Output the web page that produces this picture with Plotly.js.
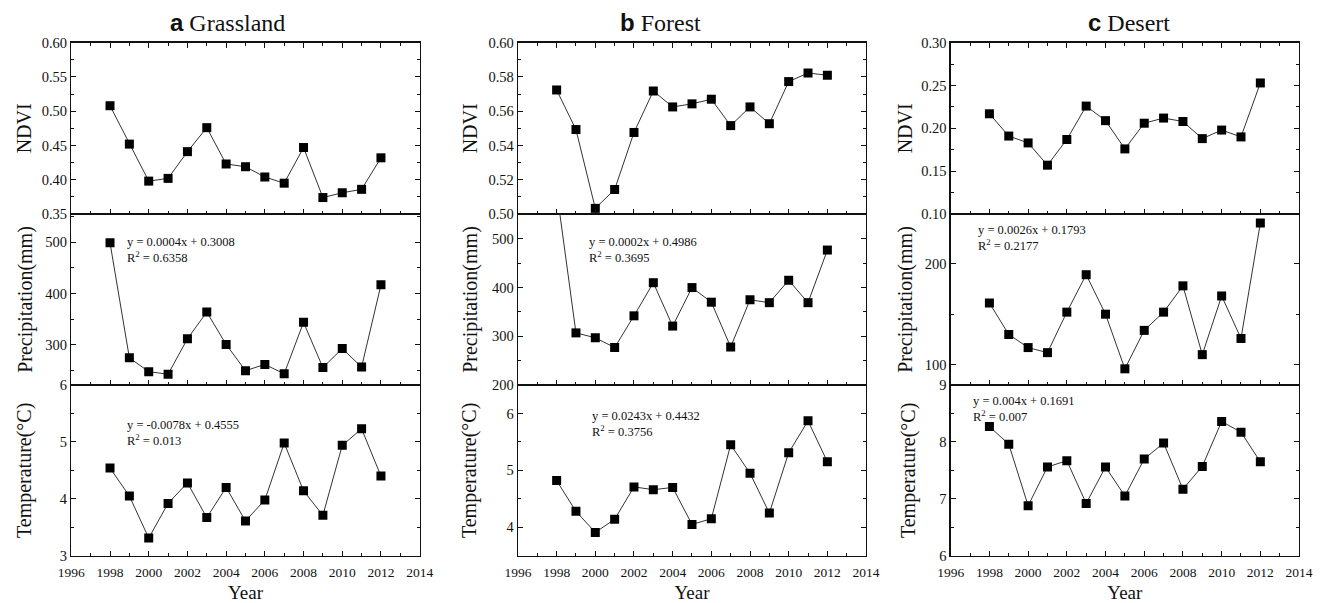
<!DOCTYPE html>
<html><head><meta charset="utf-8">
<script src="https://cdn.plot.ly/plotly-3.0.1.min.js"></script>
<style>html,body{margin:0;padding:0;background:#fff}#chart{width:1323px;height:603px}</style>
</head><body><div id="chart"></div>
<script>
const years = [1998,1999,2000,2001,2002,2003,2004,2005,2006,2007,2008,2009,2010,2011,2012];

const grasslandNDVI   = [0.508,0.452,0.398,0.402,0.441,0.476,0.423,0.419,0.404,0.395,0.447,0.374,0.381,0.386,0.432];
const grasslandPrecip = [499,275,248,243,312,364,301,250,262,244,344,256,293,257,417];
const grasslandTemp   = [4.54,4.05,3.31,3.92,4.28,3.67,4.20,3.61,3.98,4.98,4.14,3.71,4.94,5.23,4.40];

const forestNDVI   = [0.5724,0.5493,0.5033,0.5143,0.5476,0.5718,0.5625,0.5643,0.5670,0.5516,0.5625,0.5527,0.5773,0.5823,0.5810];
const forestPrecip = [600,307,297,277,342,410,321,400,370,278,375,369,415,369,477];
const forestTemp   = [4.82,4.28,3.91,4.14,4.71,4.66,4.70,4.05,4.15,5.45,4.95,4.25,5.31,5.87,5.15];

const desertNDVI   = [0.217,0.191,0.183,0.157,0.187,0.226,0.209,0.176,0.206,0.212,0.208,0.188,0.198,0.190,0.253];
const desertPrecip = [161,130,117,112,152,189,150,96,134,152,178,110,168,126,240];
const desertTemp   = [8.27,7.96,6.88,7.56,7.67,6.92,7.56,7.05,7.70,7.98,7.17,7.57,8.36,8.17,7.65];

const panelLetters = ['a','b','c'];
const panelNames = ['Grassland','Forest','Desert'];
const rowTitles = ['NDVI','Precipitation(mm)','Temperature(°C)'];
const xTitle = 'Year';
const equations = [
  ['', 'y = 0.0004x + 0.3008<br>R<sup>2</sup> = 0.6358', 'y = -0.0078x + 0.4555<br>R<sup>2</sup> = 0.013'],
  ['', 'y = 0.0002x + 0.4986<br>R<sup>2</sup> = 0.3695', 'y = 0.0243x + 0.4432<br>R<sup>2</sup> = 0.3756'],
  ['', 'y = 0.0026x + 0.1793<br>R<sup>2</sup> = 0.2177', 'y = 0.004x + 0.1691<br>R<sup>2</sup> = 0.007']
];
const seriesData = [
  [grasslandNDVI, grasslandPrecip, grasslandTemp],
  [forestNDVI, forestPrecip, forestTemp],
  [desertNDVI, desertPrecip, desertTemp]
];
const yRanges = [
  [[0.35,0.60],[222,555],[3,6]],
  [[0.50,0.60],[200,551],[3.5,6.5]],
  [[0.10,0.30],[80,249],[6,9]]
];
const yDticks = [
  [0.05,100,1],
  [0.02,100,1],
  [0.05,100,1]
];
const xRange = [1996,2014];

// layout geometry (styling)
const xDomains = [[0.0539,0.3172],[0.3915,0.6546],[0.7186,0.9819]];
const yDomains = [[0.6451,0.9292],[0.3615,0.6451],[0.0784,0.3615]];
const eqPos = [
  [null,[0.154,0.787],[0.154,0.72]],
  [null,[0.197,0.792],[0.207,0.771]],
  [null,[0.073,0.86],[0.058,0.858]]
];
const titleX = [0.172,0.4989,0.8537];
const yTitleStandoff = [[4,7,22],[5,9,24],[3,6,18]];

const serif = '"Liberation Serif", "Times New Roman", serif';
const axColor = '#111';

const traces = [];
const layout = {
  width:1323, height:603,
  margin:{l:0,r:0,t:0,b:0},
  paper_bgcolor:'#fff', plot_bgcolor:'#fff',
  showlegend:false,
  font:{family:serif, color:'#111', size:14},
  annotations:[]
};

for (let p=0;p<3;p++){
  for (let r=0;r<3;r++){
    const n = p*3 + r + 1;
    const sfx = n===1 ? '' : String(n);
    traces.push({
      type:'scatter', mode:'lines+markers',
      x: years, y: seriesData[p][r],
      xaxis:'x'+sfx, yaxis:'y'+sfx,
      line:{color:'#333', width:1},
      marker:{symbol:'square', size:9, color:'#000', line:{width:0}},
      cliponaxis: r===0 ? false : true,
      hoverinfo:'x+y'
    });
    const dt = yDticks[p][r];
    const xa = {
      domain: xDomains[p], anchor:'y'+sfx,
      range: xRange, dtick:2, tick0:1996,
      ticks:'inside', ticklen:5, tickwidth:1, tickcolor:axColor,
      minor:{dtick:1, ticks:'inside', ticklen:3, tickcolor:axColor},
      showline:true, linecolor:axColor, linewidth:1.3,
      mirror: r===0 ? 'ticks' : true,
      showgrid:false, zeroline:false,
      showticklabels: r===2,
      ticklabelstandoff: 4,
      tickfont:{family:serif, size:13.5, color:'#111'}
    };
    if (r===2) xa.title = {text:xTitle, font:{family:serif, size:19, color:'#111'}, standoff:12};
    layout['xaxis'+sfx] = xa;
    layout['yaxis'+sfx] = {
      domain: yDomains[r], anchor:'x'+sfx,
      range: yRanges[p][r], dtick: dt, tick0: 0,
      tickformat: r===0 ? '.2f' : '',
      ticks:'inside', ticklen:5, tickwidth:1, tickcolor:axColor,
      minor:{dtick: dt/2, ticks:'inside', ticklen:3, tickcolor:axColor},
      showline:true, linecolor:axColor, linewidth:1.3, mirror:'ticks',
      showgrid:false, zeroline:false,
      tickfont:{family:serif, size:14.5, color:'#111'},
      title:{text:rowTitles[r], font:{family:serif, size:20, color:'#111'}, standoff:yTitleStandoff[p][r]}
    };
    if (equations[p][r]) {
      layout.annotations.push({
        xref:'x'+sfx+' domain', yref:'y'+sfx+' domain',
        x: eqPos[p][r][0], y: eqPos[p][r][1],
        xanchor:'left', yanchor:'middle', align:'left',
        showarrow:false, text: equations[p][r],
        font:{family:serif, size:12.5, color:'#111'}
      });
    }
  }
  layout.annotations.push({
    xref:'paper', yref:'paper', x:titleX[p], y:0.9635,
    xanchor:'center', yanchor:'middle', showarrow:false,
    text:'<span style="font-family:Liberation Sans, Arial, sans-serif;font-weight:bold">'+panelLetters[p]+'</span> '+panelNames[p],
    font:{family:serif, size:24, color:'#111'}
  });
}

Plotly.newPlot('chart', traces, layout, {displayModeBar:false, staticPlot:true});
</script>
</body></html>
